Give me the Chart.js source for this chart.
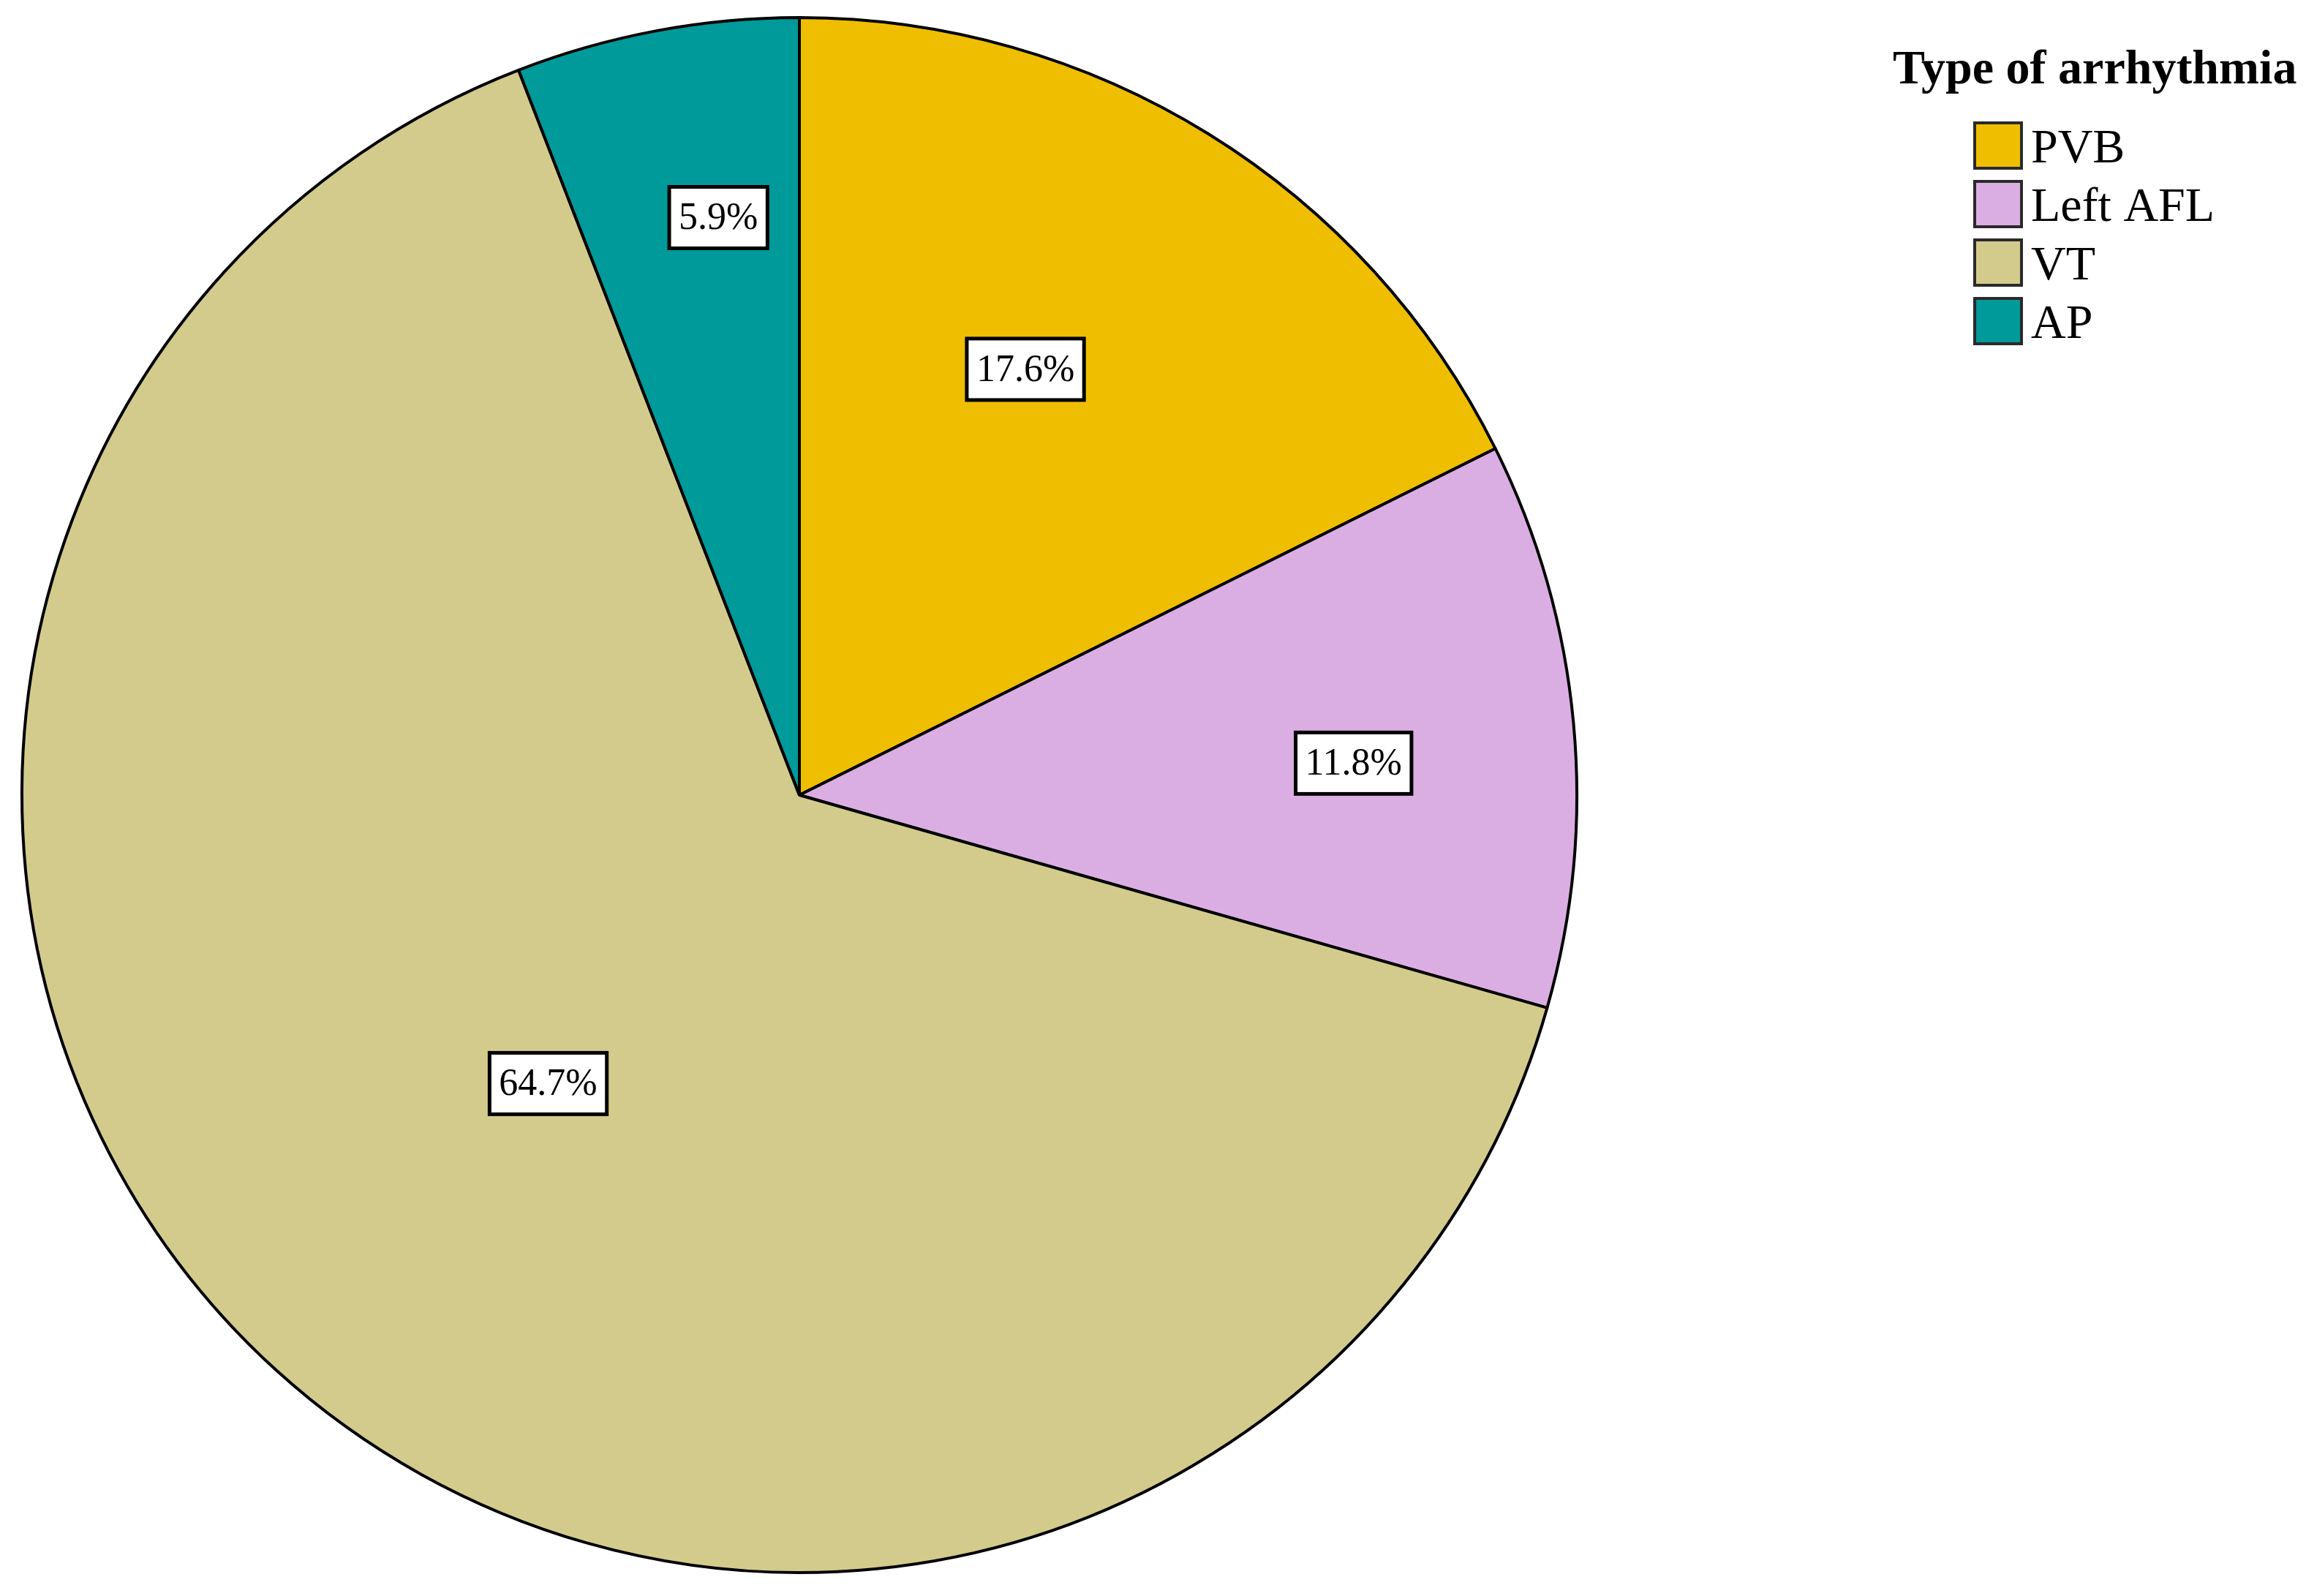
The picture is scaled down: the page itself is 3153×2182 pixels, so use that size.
<!DOCTYPE html>
<html>
<head>
<meta charset="utf-8">
<script src="https://cdn.jsdelivr.net/npm/chart.js@4.4.0/dist/chart.umd.min.js"></script>
<style>
  html, body { margin: 0; padding: 0; background: #fff; }
  #wrap { width: 3153px; height: 2182px; position: relative; }
</style>
</head>
<body>
<div id="wrap"><canvas id="pie-canvas"></canvas></div>
<script>
// arrhythmia types and patient counts (n = 17)
var categories = ["PVB", "Left AFL", "VT", "AP"];
var counts = [3, 2, 11, 1];
var sliceColors = ["#efbe00", "#dbaee3", "#d3cb8c", "#009a9a"];
var legendTitle = "Type of arrhythmia";

// where each percentage box sits: fraction of radius, and a small turn off the mid angle (deg)
var labelRadius = [0.62, 0.714, 0.492, 0.75];
var labelTurn = [-3.8, 2.0, -1.3, 2.6];

var total = counts.reduce(function (a, b) { return a + b; }, 0);

// percentage boxes on the slices
var boxLabels = {
    id: 'boxLabels',
    afterDatasetsDraw: function (chart) {
        var ctx = chart.ctx;
        var meta = chart.getDatasetMeta(0);
        ctx.save();
        ctx.font = '52px "Liberation Serif"';
        ctx.textAlign = 'center';
        ctx.textBaseline = 'middle';
        meta.data.forEach(function (arc, i) {
            var p = arc.getProps(['x', 'y', 'startAngle', 'endAngle', 'outerRadius'], true);
            var mid = (p.startAngle + p.endAngle) / 2 + labelTurn[i] * Math.PI / 180;
            var r = p.outerRadius * labelRadius[i];
            var cx = p.x + Math.cos(mid) * r;
            var cy = p.y + Math.sin(mid) * r;
            var txt = (counts[i] / total * 100).toFixed(1) + '%';
            var w = ctx.measureText(txt).width + 26;
            var h = 84;
            ctx.fillStyle = '#fff';
            ctx.fillRect(cx - w / 2, cy - h / 2, w, h);
            ctx.lineWidth = 5;
            ctx.strokeStyle = '#000';
            ctx.strokeRect(cx - w / 2, cy - h / 2, w, h);
            ctx.fillStyle = '#000';
            ctx.fillText(txt, cx, cy + 2);
        });
        ctx.restore();
    }
};

// legend on the right, drawn by hand so it sits like the original
var sideLegend = {
    id: 'sideLegend',
    afterDraw: function (chart) {
        var ctx = chart.ctx;
        ctx.save();
        ctx.fillStyle = '#000';
        ctx.textAlign = 'left';
        ctx.textBaseline = 'alphabetic';
        ctx.font = 'bold 66px "Liberation Serif"';
        ctx.fillText(legendTitle, 2588, 114);
        ctx.font = '66px "Liberation Serif"';
        chart.data.labels.forEach(function (lab, i) {
            var top = 166 + i * 80;
            ctx.fillStyle = chart.data.datasets[0].backgroundColor[i];
            ctx.fillRect(2700, top + 2, 64, 62);
            ctx.lineWidth = 4;
            ctx.strokeStyle = '#2a2a2a';
            ctx.strokeRect(2700, top + 2, 64, 62);
            ctx.fillStyle = '#000';
            ctx.fillText(lab, 2777, top + 56);
        });
        ctx.restore();
    }
};

var ctxPie = document.getElementById('pie-canvas').getContext('2d');

var pieChart = new Chart(ctxPie, {
    type: 'pie',
    data: {
        labels: categories,
        datasets: [{
            data: counts,
            backgroundColor: sliceColors,
            borderColor: '#000',
            borderWidth: 4
        }]
    },
    options: {
        responsive: true,
        maintainAspectRatio: false,
        animation: false,
        layout: {
            padding: { left: 26, top: 22, bottom: 30, right: 993 }
        },
        plugins: {
            legend: { display: false },
            tooltip: { enabled: false }
        }
    },
    plugins: [boxLabels, sideLegend]
});
</script>
</body>
</html>
